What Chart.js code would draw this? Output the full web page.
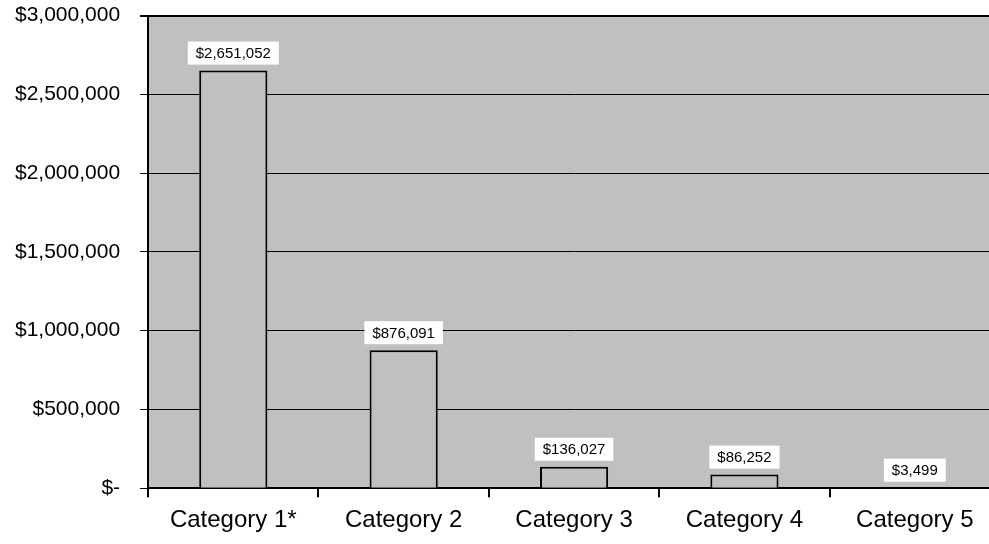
<!DOCTYPE html>
<html>
<head>
<meta charset="utf-8">
<script src="https://cdn.jsdelivr.net/npm/chart.js@4/dist/chart.umd.min.js"></script>
<style>
  html, body { margin: 0; padding: 0; background: #fff; overflow: hidden; }
  #wrap { width: 1000px; height: 561px; margin-top: -17px; }
</style>
</head>
<body>
<div id="wrap"><canvas id="costChart" width="1000" height="561"></canvas></div>
<script>
// chart data
const categories = ['Category 1*', 'Category 2', 'Category 3', 'Category 4', 'Category 5'];
const amounts = [2651052, 876091, 136027, 86252, 3499];
const yTicks = [0, 500000, 1000000, 1500000, 2000000, 2500000, 3000000];

const FONT = '"Liberation Sans", Arial, sans-serif';

function money(v) {
    if (v === 0) return '$-';
    return '$' + v.toLocaleString('en-US');
}

// grey plot area
const plotBackground = {
    id: 'plotBackground',
    beforeDraw(chart) {
        const a = chart.chartArea;
        const ctx = chart.ctx;
        ctx.save();
        ctx.fillStyle = '#c0c0c0';
        ctx.fillRect(a.left, a.top, a.right - a.left, a.bottom - a.top);
        ctx.restore();
    }
};

// white boxes with values above the bars
const valueLabels = {
    id: 'valueLabels',
    afterDatasetsDraw(chart) {
        const ctx = chart.ctx;
        const meta = chart.getDatasetMeta(0);
        ctx.save();
        ctx.font = '15px ' + FONT;
        ctx.textAlign = 'center';
        ctx.textBaseline = 'middle';
        meta.data.forEach((bar, i) => {
            const text = money(amounts[i]);
            const w = ctx.measureText(text).width + 16;
            const h = 23;
            const bottom = bar.y - 6;
            ctx.fillStyle = '#fff';
            ctx.fillRect(bar.x - w / 2, bottom - h, w, h);
            ctx.fillStyle = '#000';
            ctx.fillText(text, bar.x, bottom - h / 2 + 1);
        });
        ctx.restore();
    }
};

new Chart(document.getElementById('costChart').getContext('2d'), {
    type: 'bar',
    data: {
        labels: categories,
        datasets: [{
            data: amounts,
            backgroundColor: '#c0c0c0',
            borderColor: '#000',
            borderWidth: 2,
            borderSkipped: 'bottom',
            categoryPercentage: 1,
            barPercentage: 0.4
        }]
    },
    options: {
        responsive: false,
        animation: false,
        layout: { padding: { top: -13, left: -5, right: 0, bottom: 0 } },
        plugins: {
            legend: { display: false },
            tooltip: { enabled: false }
        },
        scales: {
            x: {
                offset: true,
                grid: {
                    offset: true,
                    drawOnChartArea: false,
                    color: '#000',
                    lineWidth: 2,
                    tickLength: 9
                },
                border: { color: '#000', width: 2 },
                ticks: {
                    color: '#000',
                    padding: 9,
                    maxRotation: 0,
                    font: { family: FONT, size: 24 }
                }
            },
            y: {
                min: 0,
                max: 3000000,
                afterBuildTicks(axis) {
                    axis.ticks = yTicks.map(v => ({ value: v }));
                },
                grid: {
                    color: '#000',
                    lineWidth: ctx => (ctx.tick && ctx.tick.value === 3000000) ? 2 : 1,
                    tickLength: 8
                },
                border: { color: '#000', width: 2 },
                ticks: {
                    color: '#000',
                    padding: 20,
                    font: { family: FONT, size: 21 },
                    callback: v => money(v)
                }
            }
        }
    },
    plugins: [plotBackground, valueLabels]
});
</script>
</body>
</html>
